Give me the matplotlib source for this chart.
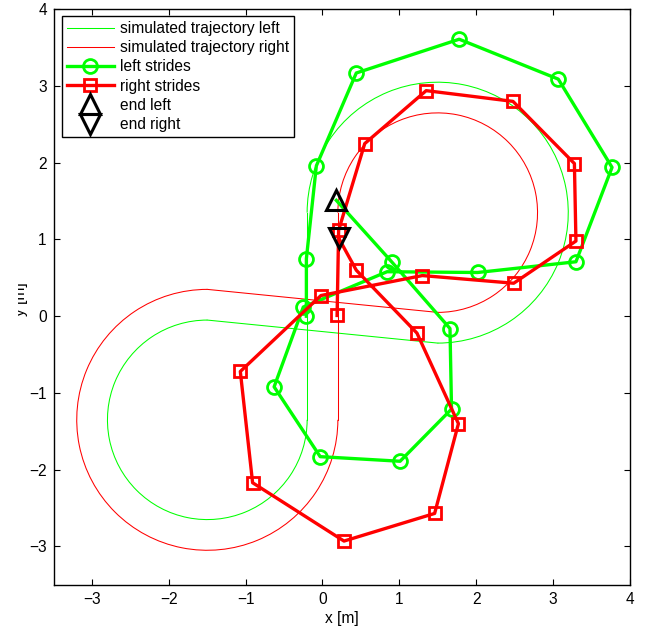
import matplotlib
matplotlib.use("Agg")
import matplotlib.pyplot as plt
from matplotlib.patches import Arc
from matplotlib.transforms import Bbox

plt.rcParams['font.family'] = ['Liberation Sans', 'DejaVu Sans']

# ---- data ----
# simulated trajectories: two loops joined by straight segments
traj_left_centers = [(1.5, 1.35), (-1.5, -1.35)]
traj_left_radii = [1.7, 1.3]
traj_left_arcs = [(-90, 180), (90, 360)]
traj_left_vert_x = [-0.2, -0.2]
traj_left_vert_y = [1.35, -1.35]
traj_left_cross_x = [-1.5, 1.5]
traj_left_cross_y = [-0.05, -0.35]

traj_right_centers = [(1.5, 1.35), (-1.5, -1.35)]
traj_right_radii = [1.3, 1.7]
traj_right_arcs = [(-90, 180), (90, 360)]
traj_right_vert_x = [0.2, 0.2]
traj_right_vert_y = [1.35, -1.35]
traj_right_cross_x = [-1.5, 1.5]
traj_right_cross_y = [0.35, 0.05]

left_x = [-0.21, -0.21, -0.08, 0.44, 1.78, 3.07, 3.77, 3.30, 2.02, 0.84, -0.25,
          -0.63, -0.03, 1.01, 1.68, 1.66, 0.90]
left_y = [0.00, 0.75, 1.96, 3.17, 3.61, 3.09, 1.94, 0.71, 0.57, 0.58, 0.12,
          -0.92, -1.83, -1.89, -1.21, -0.16, 0.71]
end_left = (0.18, 1.51)

right_x = [0.19, 0.21, 0.55, 1.35, 2.48, 3.28, 3.30, 2.49, 1.30, -0.02,
           -1.07, -0.91, 0.28, 1.46, 1.77, 1.23, 0.44]
right_y = [0.01, 1.12, 2.25, 2.94, 2.80, 1.99, 0.98, 0.43, 0.53, 0.27,
           -0.72, -2.17, -2.93, -2.57, -1.40, -0.22, 0.60]
end_right = (0.21, 1.02)

xticks = [-3, -2, -1, 0, 1, 2, 3, 4]
yticks = [-3, -2, -1, 0, 1, 2, 3, 4]

GREEN = '#00ff00'
RED = '#ff0000'
FS = 11.2

fig = plt.figure(figsize=(6.48, 6.30), dpi=100)
W, H = 648, 630
ax = fig.add_axes([53.7 / W, 1 - 584.8 / H, 576.0 / W, 575.5 / H])

def draw_traj(centers, radii, arcs, vx, vy, cx, cy, color, label):
    for (c, r, (t1, t2)) in zip(centers, radii, arcs):
        ax.add_patch(Arc(c, 2 * r, 2 * r, theta1=t1, theta2=t2,
                         color=color, lw=0.75, zorder=1))
    ln, = ax.plot(vx, vy, color=color, lw=0.75, zorder=1, label=label)
    ax.plot(cx, cy, color=color, lw=0.75, zorder=1)
    return ln

h1 = draw_traj(traj_left_centers, traj_left_radii, traj_left_arcs,
               traj_left_vert_x, traj_left_vert_y,
               traj_left_cross_x, traj_left_cross_y, GREEN,
               'simulated trajectory left')
h2 = draw_traj(traj_right_centers, traj_right_radii, traj_right_arcs,
               traj_right_vert_x, traj_right_vert_y,
               traj_right_cross_x, traj_right_cross_y, RED,
               'simulated trajectory right')

lx = left_x + [end_left[0]]
ly = left_y + [end_left[1]]
rx = right_x + [end_right[0]]
ry = right_y + [end_right[1]]

h3, = ax.plot(lx, ly, color=GREEN, lw=2.4, marker='o', ms=10, mew=2.0,
              mfc='none', mec=GREEN, markevery=list(range(len(left_x))),
              zorder=3, label='left strides')
h4, = ax.plot(rx, ry, color=RED, lw=2.4, marker='s', ms=8.5, mew=2.0,
              mfc='none', mec=RED, markevery=list(range(len(right_x))),
              zorder=3, label='right strides')
h5, = ax.plot([end_left[0]], [end_left[1]], ls='none', marker='^', ms=15,
              mew=2.2, mfc='none', mec='black', zorder=4, label='end left')
h6, = ax.plot([end_right[0]], [end_right[1]], ls='none', marker='v', ms=15,
              mew=2.2, mfc='none', mec='black', zorder=4, label='end right')

ax.set_xlim(-3.5, 4)
ax.set_ylim(-3.5, 4)
ax.set_xticks(xticks)
ax.set_yticks(yticks)
ax.tick_params(direction='in', length=4.5, width=0.8, top=True, right=True,
               labelsize=FS, pad=5)
for s in ax.spines.values():
    s.set_linewidth(1.0)

ax.set_xlabel('x [m]', fontsize=FS, labelpad=3)

yl = fig.text(20.5 / W, 1 - 299 / H, 'y [m]', rotation=90, ha='center',
              va='center', fontsize=FS)
yl.set_clip_box(Bbox([[18, 0], [W, H]]))
yl.set_clip_on(True)

leg = ax.legend(handles=[h1, h2, h3, h4, h5, h6], loc='upper left',
                bbox_to_anchor=((62 - 53.7) / 576.0, (584.8 - 16) / 575.5),
                borderaxespad=0, fontsize=FS, frameon=True, fancybox=False,
                framealpha=1, edgecolor='black', handlelength=3.0,
                handletextpad=0.4, labelspacing=0.27, borderpad=0.32)
leg.get_frame().set_linewidth(1.0)

fig.savefig('out.png', dpi=100)
